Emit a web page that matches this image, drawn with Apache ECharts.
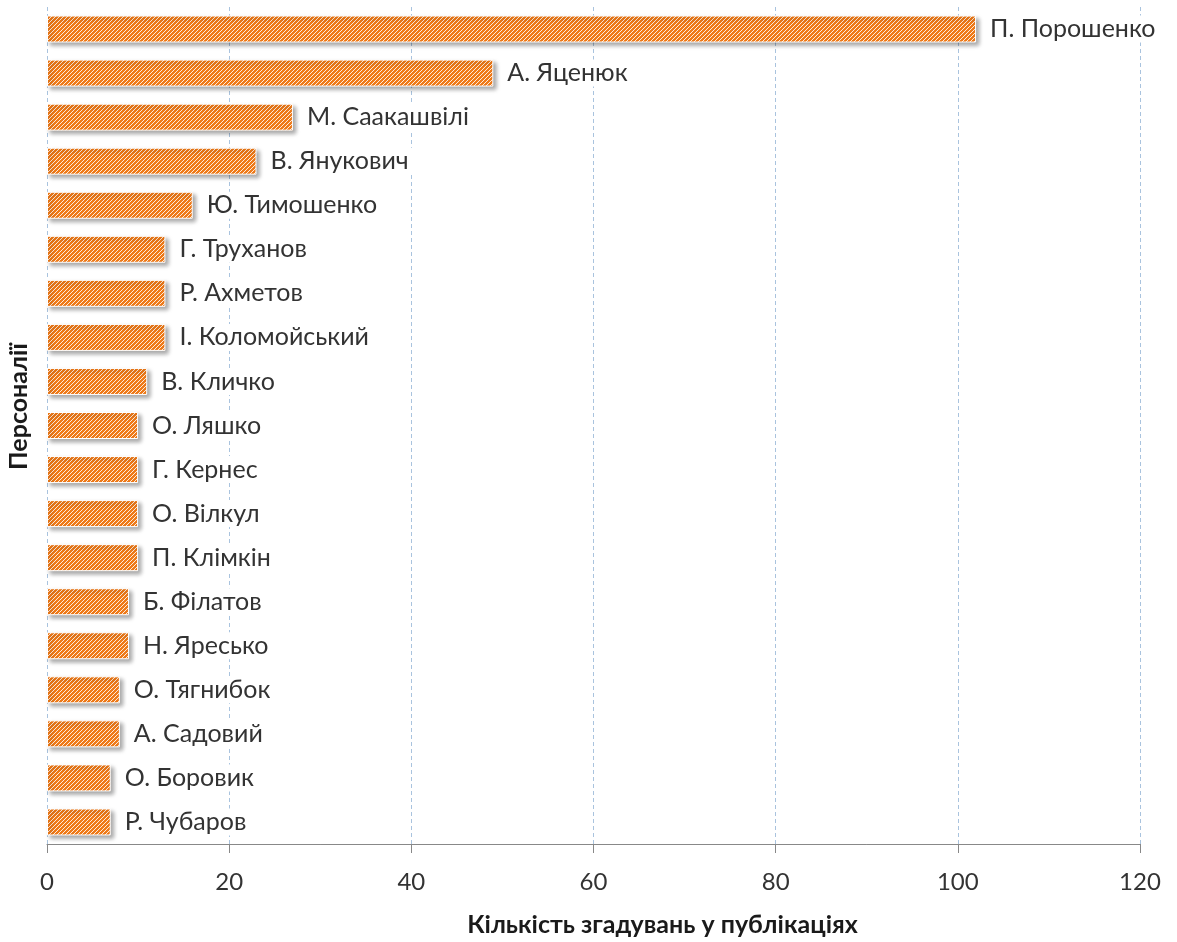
<!DOCTYPE html>
<html>
<head>
<meta charset="utf-8">
<script src="https://cdn.jsdelivr.net/npm/echarts@6/dist/echarts.min.js"></script>
<style>
  html, body { margin: 0; padding: 0; background: #fff; }
  #main { width: 1177px; height: 942px; }
</style>
</head>
<body>
<div id="main"></div>
<script>
var names = ['П. Порошенко', 'А. Яценюк', 'М. Саакашвілі', 'В. Янукович', 'Ю. Тимошенко',
    'Г. Труханов', 'Р. Ахметов', 'І. Коломойський', 'В. Кличко', 'О. Ляшко',
    'Г. Кернес', 'О. Вілкул', 'П. Клімкін', 'Б. Філатов', 'Н. Яресько',
    'О. Тягнибок', 'А. Садовий', 'О. Боровик', 'Р. Чубаров'];
var counts = [102, 49, 27, 23, 16, 13, 13, 13, 11, 10, 10, 10, 10, 9, 9, 8, 8, 7, 7];
var xTicks = [0, 20, 40, 60, 80, 100, 120];

// hatch fill: orange with thin white diagonal stripes
function hatch() {
    var c = document.createElement('canvas');
    c.width = 4;
    c.height = 4;
    var ctx = c.getContext('2d');
    ctx.fillStyle = '#EF7A18';
    ctx.fillRect(0, 0, 4, 4);
    ctx.strokeStyle = 'rgba(255,255,255,0.85)';
    ctx.lineWidth = 1;
    ctx.beginPath();
    ctx.moveTo(0, 4); ctx.lineTo(4, 0);
    ctx.moveTo(-1, 1); ctx.lineTo(1, -1);
    ctx.moveTo(3, 5); ctx.lineTo(5, 3);
    ctx.stroke();
    return c;
}

var font = 'Lato, "Open Sans", sans-serif';
var myChart = echarts.init(document.getElementById('main'));
var option = {
    animation: false,
    grid: { left: 47, right: 37, top: 7, bottom: 98, outerBoundsMode: 'none', containLabel: false },
    xAxis: {
        type: 'value',
        min: xTicks[0],
        max: xTicks[xTicks.length - 1],
        interval: 20,
        name: 'Кількість згадувань у публікаціях',
        nameLocation: 'middle',
        nameGap: 68,
        nameTextStyle: { fontFamily: font, fontWeight: 'bold', fontSize: 25, color: '#1a1a1a', padding: [0, 0, 0, 138] },
        axisLine: { show: true, lineStyle: { color: '#888', width: 1 } },
        axisTick: { show: true, length: 9, lineStyle: { color: '#888' } },
        axisLabel: { fontFamily: font, fontSize: 24, color: '#333', margin: 26 },
        splitLine: { show: true, lineStyle: { color: '#A9C3DE', type: [4, 3], width: 1 } }
    },
    yAxis: {
        type: 'category',
        data: names,
        inverse: true,
        name: 'Персоналії',
        nameLocation: 'middle',
        nameRotate: 90,
        nameGap: 16,
        nameTextStyle: { fontFamily: font, fontWeight: 'bold', fontSize: 25, color: '#1a1a1a', padding: [0, 0, 0, 38] },
        axisLine: { show: false },
        axisTick: { show: false },
        axisLabel: { show: false }
    },
    series: [{
        type: 'bar',
        data: counts,
        barWidth: 27,
        itemStyle: {
            color: { image: hatch(), repeat: 'repeat' },
            borderColor: '#fff',
            borderWidth: 1,
            shadowColor: 'rgba(0,0,0,0.35)',
            shadowBlur: 4,
            shadowOffsetX: 3,
            shadowOffsetY: 3
        },
        label: {
            show: true,
            position: 'right',
            distance: 8,
            formatter: function (p) { return p.name; },
            fontFamily: font,
            fontSize: 25,
            color: '#333',
            backgroundColor: '#fff',
            padding: [1, 6, 1, 6]
        }
    }]
};
myChart.setOption(option);
</script>
</body>
</html>
